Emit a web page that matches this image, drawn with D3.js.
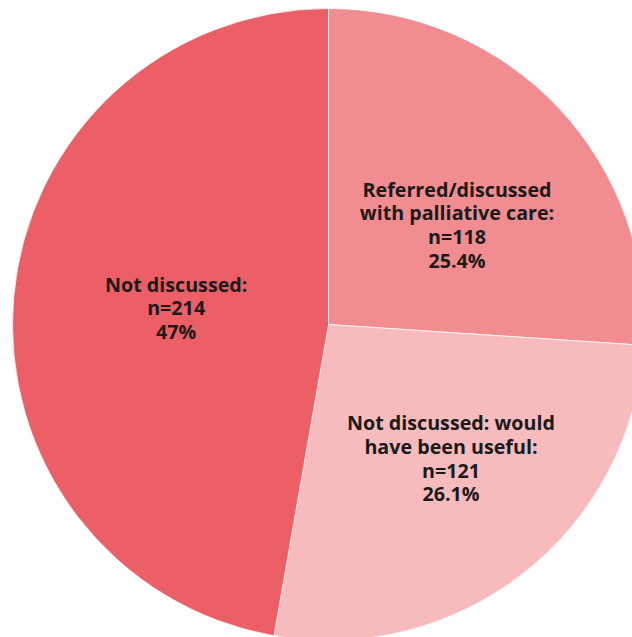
<!DOCTYPE html>
<html>
<head>
<meta charset="utf-8">
<script src="https://cdn.jsdelivr.net/npm/d3@7"></script>
<style>
  html, body { margin: 0; padding: 0; background: #ffffff; overflow: hidden; }
  svg { display: block; }
</style>
</head>
<body>
<svg id="chart" width="632" height="637"></svg>
<script>
// ---- Data ----
const categories = [
  "Referred/discussed with palliative care:",
  "Not discussed: would have been useful:",
  "Not discussed:"
];
const labelLines = [
  ["Referred/discussed", "with palliative care:"],
  ["Not discussed: would", "have been useful:"],
  ["Not discussed:"]
];
const counts = [118, 121, 214];
const percentLabels = ["25.4%", "26.1%", "47%"];
const colors = ["#F18C90", "#F7BBBE", "#EC5F67"];

// ---- Layout ----
const W = 632, H = 637;
const cx = 328.5, cy = 324.5, R = 316;
const labelR = 174;
const labelNudge = [[1.5, 26.5], [15, 4.5], [21, 6]];
const lineH = 23.7;

const svg = d3.select("#chart");
const g = svg.append("g").attr("transform", `translate(${cx},${cy})`);

const data = categories.map((c, i) => ({ cat: c, n: counts[i], pct: percentLabels[i], lines: labelLines[i], color: colors[i] }));

const pie = d3.pie().sort(null).value(d => d.n).startAngle(0).endAngle(2 * Math.PI);
const arc = d3.arc().innerRadius(0).outerRadius(R);
const labelArc = d3.arc().innerRadius(labelR).outerRadius(labelR);

const arcs = pie(data);

g.selectAll("path.slice")
  .data(arcs)
  .join("path")
  .attr("class", "slice")
  .attr("d", arc)
  .attr("fill", d => d.data.color)
  .attr("stroke", "#ffffff")
  .attr("stroke-width", 0.7);

const labels = g.selectAll("text.lbl")
  .data(arcs)
  .join("text")
  .attr("class", "lbl")
  .attr("text-anchor", "middle")
  .attr("font-family", "'Open Sans', 'Noto Sans', sans-serif")
  .attr("font-weight", 700)
  .attr("font-size", 19.7)
  .attr("fill", "#1a1a1a");

labels.each(function(d, i) {
  const [x, y] = labelArc.centroid(d);
  const ax = x + labelNudge[i][0];
  const ay = y + labelNudge[i][1];
  const lines = d.data.lines.concat(["n=" + d.data.n, d.data.pct]);
  const y0 = ay - (lines.length - 1) / 2 * lineH;
  d3.select(this).selectAll("tspan")
    .data(lines)
    .join("tspan")
    .attr("x", ax)
    .attr("y", (t, k) => y0 + k * lineH)
    .text(t => t);
});
</script>
</body>
</html>
